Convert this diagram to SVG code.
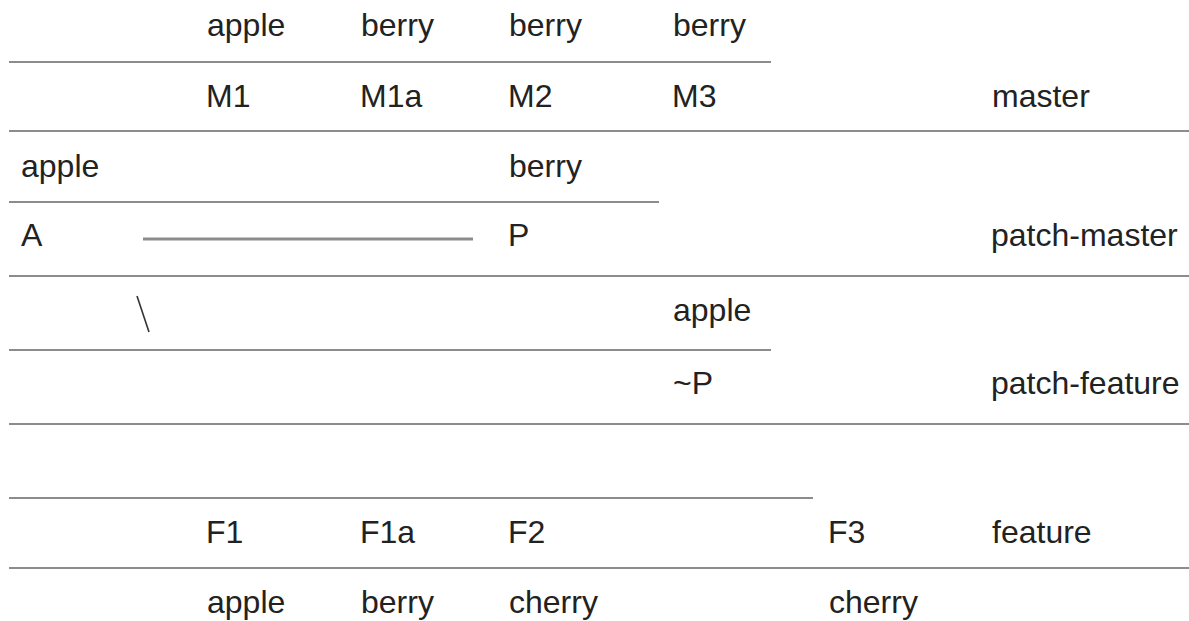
<svg xmlns="http://www.w3.org/2000/svg" width="1189" height="621" viewBox="0 0 1189 621">
<style>
text{font-family:"Liberation Sans",Arial,sans-serif;font-size:32px;fill:#222}
.rule{stroke:#8c8c8c;stroke-width:2;fill:none}
.edge{stroke:#8c8c8c;stroke-width:3;fill:none}
.slash{stroke:#333;stroke-width:1.6;fill:none}
</style>
<rect width="1189" height="621" fill="#fff"/>
<g id="grid">
<line class="rule" x1="9" y1="62" x2="771" y2="62"/>
<line class="rule" x1="9" y1="131" x2="1189" y2="131"/>
<line class="rule" x1="9" y1="202" x2="659" y2="202"/>
<line class="rule" x1="9" y1="276" x2="1189" y2="276"/>
<line class="rule" x1="9" y1="350" x2="771" y2="350"/>
<line class="rule" x1="9" y1="424" x2="1189" y2="424"/>
<line class="rule" x1="9" y1="498" x2="813" y2="498"/>
<line class="rule" x1="9" y1="568" x2="1189" y2="568"/>
</g>
<g id="connectors">
<line class="edge" x1="143" y1="239" x2="473" y2="239"/>
<line class="slash" x1="137" y1="296" x2="149" y2="332"/>
</g>
<g id="master">
<text x="207" y="36">apple</text>
<text x="361" y="36">berry</text>
<text x="509" y="36">berry</text>
<text x="673" y="36">berry</text>
<text x="206" y="107">M1</text>
<text x="360" y="107">M1a</text>
<text x="508" y="107">M2</text>
<text x="672" y="107">M3</text>
<text x="992" y="107">master</text>
</g>
<g id="patch-master">
<text x="21" y="177">apple</text>
<text x="509" y="177">berry</text>
<text x="21" y="246">A</text>
<text x="508" y="246">P</text>
<text x="991" y="246">patch-master</text>
</g>
<g id="patch-feature">
<text x="673" y="321">apple</text>
<text x="673" y="394">~P</text>
<text x="991" y="394">patch-feature</text>
</g>
<g id="feature">
<text x="206" y="543">F1</text>
<text x="360" y="543">F1a</text>
<text x="508" y="543">F2</text>
<text x="828" y="543">F3</text>
<text x="992" y="543">feature</text>
<text x="207" y="613">apple</text>
<text x="361" y="613">berry</text>
<text x="509" y="613">cherry</text>
<text x="829" y="613">cherry</text>
</g>
</svg>
